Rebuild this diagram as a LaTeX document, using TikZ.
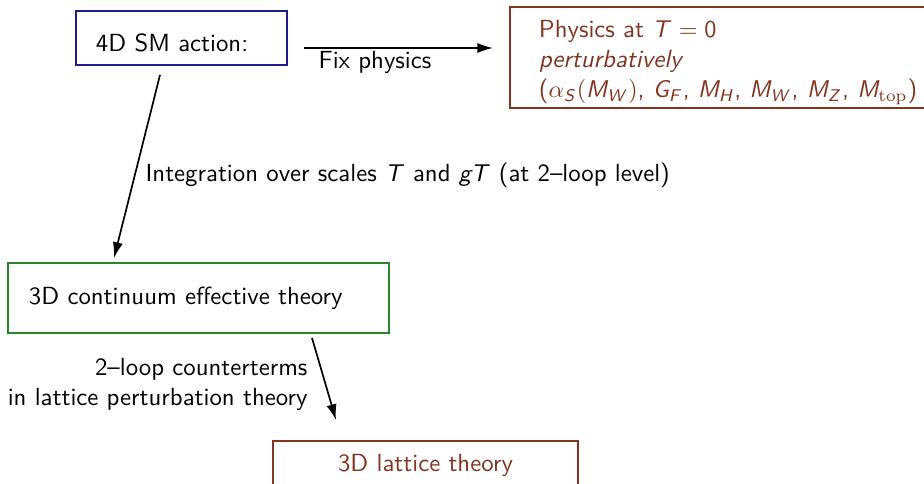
\documentclass[tikz,border=0pt]{standalone}
\usepackage{amsmath}
\usetikzlibrary{arrows.meta,positioning}
\renewcommand{\familydefault}{\sfdefault}
% sans serif math letters, as in a beamer slide
\DeclareSymbolFont{sfitalic}{OT1}{cmss}{m}{sl}
\DeclareSymbolFont{sfupright}{OT1}{cmss}{m}{n}
\DeclareMathSymbol{T}{\mathalpha}{sfitalic}{`T}
\DeclareMathSymbol{g}{\mathalpha}{sfitalic}{`g}
\DeclareMathSymbol{M}{\mathalpha}{sfitalic}{`M}
\DeclareMathSymbol{W}{\mathalpha}{sfitalic}{`W}
\DeclareMathSymbol{H}{\mathalpha}{sfitalic}{`H}
\DeclareMathSymbol{Z}{\mathalpha}{sfitalic}{`Z}
\DeclareMathSymbol{G}{\mathalpha}{sfitalic}{`G}
\DeclareMathSymbol{F}{\mathalpha}{sfitalic}{`F}
\DeclareMathSymbol{S}{\mathalpha}{sfitalic}{`S}
\DeclareMathSymbol{0}{\mathalpha}{sfupright}{`0}
\definecolor{smblue}{RGB}{28,28,140}
\definecolor{effgreen}{RGB}{40,135,40}
\definecolor{latbrown}{RGB}{130,52,32}
\newcommand{\pxl}{0.4134pt}

\begin{document}
\begin{tikzpicture}[x=0.4134pt, y=-0.4134pt, font=\fontsize{10.25}{12.4}\selectfont,
  box/.style={draw, line width=0.8pt, rectangle, anchor=north west, align=left},
  conn/.style={-{Latex[length=6.5pt,width=4.2pt]}, line width=0.7pt}]
  \useasboundingbox (0,0) rectangle (924,483);
  \clip (0,0) rectangle (924,483);

  % Kaestchen
  \node[box, draw=smblue, minimum width=211*\pxl, minimum height=54*\pxl,
        text width=171*\pxl, inner xsep=20*\pxl, text height=11pt, text depth=0pt]
        (sm) at (75,10) {4D SM action:};
  \node[box, draw=latbrown, text=latbrown, minimum width=480*\pxl, minimum height=101*\pxl,
        text width=422*\pxl, inner xsep=29*\pxl, inner ysep=0pt]
        (phys) at (509,6) {\rule{0pt}{11.2pt}Physics at $T=0$\\ \textit{perturbatively}\\
        ($\alpha_S(M_W)$, $G_F$, $M_H$, $M_W$, $M_Z$, $M_{\mathrm{top}}$)};
  \node[box, draw=effgreen, minimum width=381*\pxl, minimum height=70*\pxl,
        text width=339*\pxl, inner xsep=21*\pxl]
        (eff) at (7,262) {3D continuum effective theory};
  \node[box, draw=latbrown, text=latbrown, minimum width=305*\pxl, minimum height=48*\pxl,
        align=center]
        (lat) at (272,440) {3D lattice theory};

  % Pfeile
  \coordinate (fixa) at (304,48);
  \coordinate (fixb) at (493,48);
  \coordinate (inta) at (160,75);
  \coordinate (intb) at (114,258);
  \coordinate (cta) at (312,338);
  \coordinate (ctb) at (336,420);
  \draw[conn] (fixa) -- (fixb);
  \draw[conn] (inta) -- (intb);
  \draw[conn] (cta) -- (ctb);

  % Beschriftungen
  \node (fixlbl) at (375,62) {Fix physics};
  \node[anchor=west] (intlbl) at (137,175)
        {Integration over scales $T$ and $gT$ (at 2--loop level)};
  \node[anchor=east, align=right] (ctlbl) at (316,384)
        {2--loop counterterms\\ in lattice perturbation theory};
\end{tikzpicture}
\end{document}
